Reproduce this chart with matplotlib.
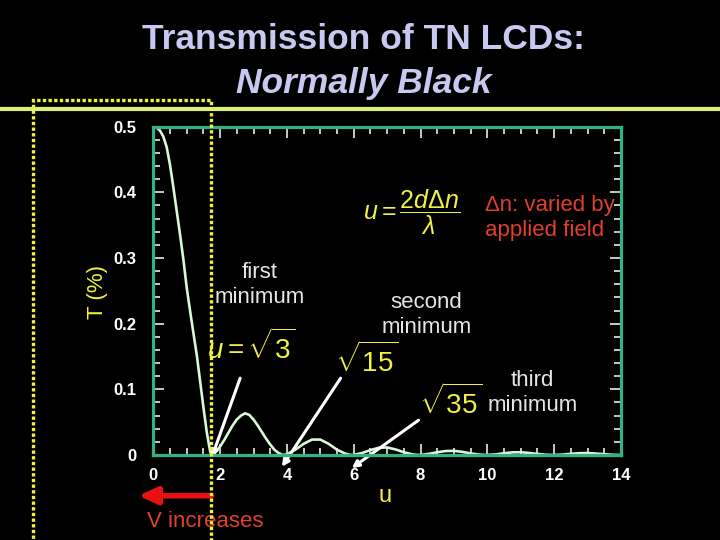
import matplotlib
matplotlib.use("Agg")
import matplotlib.pyplot as plt
from matplotlib.ticker import MultipleLocator, FixedLocator
from matplotlib.patches import Rectangle
from matplotlib.lines import Line2D

plt.rcParams['font.family'] = ['Liberation Sans', 'DejaVu Sans']
plt.rcParams['mathtext.fontset'] = 'custom'
plt.rcParams['mathtext.rm'] = 'Liberation Sans'
plt.rcParams['mathtext.it'] = 'Liberation Sans:italic'

# ---- data ----
u_vals = [0.0, 0.1, 0.2, 0.3, 0.4, 0.5, 0.6, 0.7, 0.8, 0.9, 1.0, 1.1, 1.2, 1.3,
          1.4, 1.5, 1.6, 1.7, 1.732,
          1.8, 1.9, 2.0, 2.125, 2.25, 2.375, 2.5, 2.625, 2.75, 2.875, 3.0, 3.125,
          3.25, 3.375, 3.5, 3.625, 3.75, 3.873,
          4.0, 4.25, 4.5, 4.75, 5.0, 5.25, 5.5, 5.75, 5.916,
          6.0, 6.25, 6.5, 6.75, 7.0, 7.25, 7.5, 7.75, 7.937,
          8.0, 8.25, 8.5, 8.75, 9.0, 9.25, 9.5, 9.75, 9.95,
          10.25, 10.5, 10.75, 11.0, 11.25, 11.5, 11.75, 11.958,
          12.25, 12.5, 12.75, 13.0, 13.25, 13.5, 13.75, 13.964, 14.0]
T_vals = [0.5, 0.499, 0.494, 0.485, 0.469, 0.442, 0.408, 0.372, 0.336, 0.298,
          0.255, 0.220, 0.186, 0.153, 0.113, 0.073, 0.035, 0.006, 0.0,
          0.002, 0.007, 0.013, 0.023, 0.034, 0.045, 0.054, 0.060, 0.0635, 0.061,
          0.054, 0.045, 0.035, 0.025, 0.016, 0.008, 0.003, 0.0,
          0.001, 0.008, 0.017, 0.0235, 0.0235, 0.017, 0.008, 0.002, 0.0,
          0.0003, 0.003, 0.0075, 0.011, 0.0115, 0.0085, 0.0042, 0.001, 0.0,
          0.0001, 0.0017, 0.0042, 0.006, 0.0063, 0.0048, 0.0024, 0.0006, 0.0,
          0.0009, 0.0027, 0.004, 0.0042, 0.0031, 0.0016, 0.0004, 0.0,
          0.0006, 0.0018, 0.0027, 0.003, 0.0022, 0.0012, 0.0003, 0.0, 0.00002]
x_ticks = [0, 2, 4, 6, 8, 10, 12, 14]
y_ticks = [0, 0.1, 0.2, 0.3, 0.4, 0.5]
y_tick_labels = ['0', '0.1', '0.2', '0.3', '0.4', '0.5']

title_line1 = "Transmission of TN LCDs:"
title_line2 = "Normally Black"

# ---- colours ----
bg = 'black'
frame_c = '#2fb383'
curve_c = '#d8f8d6'
title_c = '#c8c8f0'
yellow = '#f2f040'
red_txt = '#e0402a'
white_txt = '#e6e6e6'

fig = plt.figure(figsize=(7.2, 5.4), dpi=100, facecolor=bg)
ax = fig.add_axes([0.2129, 0.1574, 0.6496, 0.608])
ax.set_facecolor(bg)

ax.plot(u_vals, T_vals, color=curve_c, lw=1.9, solid_capstyle='round', zorder=3)

ax.set_xlim(0, 14)
ax.set_ylim(0, 0.5)
for s in ax.spines.values():
    s.set_color(frame_c)
    s.set_linewidth(2.3)
    s.set_zorder(4)

ax.xaxis.set_major_locator(FixedLocator(x_ticks))
ax.xaxis.set_minor_locator(MultipleLocator(0.5))
ax.yaxis.set_major_locator(FixedLocator(y_ticks))
ax.yaxis.set_minor_locator(MultipleLocator(0.02))
ax.set_yticklabels(y_tick_labels)
ax.tick_params(which='both', direction='in', colors='white', top=True, right=True)
ax.tick_params(which='major', length=8, width=1.1)
ax.tick_params(which='minor', length=5, width=1.1)
ax.tick_params(axis='x', which='major', pad=9, labelsize=12, labelcolor='white')
ax.tick_params(axis='y', which='major', pad=12, labelsize=12, labelcolor='white')
for lab in ax.get_xticklabels() + ax.get_yticklabels():
    lab.set_fontweight('bold')

# ---- title ----
fig.text(0.505, 0.926, title_line1, ha='center', va='center', fontsize=25.5,
         fontweight='bold', color=title_c)
fig.text(0.505, 0.846, title_line2, ha='center', va='center', fontsize=25.5,
         fontweight='bold', fontstyle='italic', color=title_c)

# horizontal light-green rule
fig.add_artist(Line2D([0, 1], [0.799, 0.799], transform=fig.transFigure,
                      color='#d8f080', lw=3.0))
# yellow dotted box
fig.add_artist(Rectangle((0.0465, -0.02), 0.2465, 0.8348, transform=fig.transFigure,
                         fill=False, edgecolor=yellow, lw=2.4,
                         linestyle=(0, (1, 0.7)), zorder=10))

# ---- labels ----
ax.text(-1.675, 0.248, 'T (%)', rotation=90, ha='center', va='center',
        fontsize=16, color=yellow)
ax.text(6.93, -0.062, 'u', ha='center', va='center', fontsize=17, color=yellow)

# annotations
ax.text(3.18, 0.259, 'first\nminimum', ha='center', va='center', fontsize=16,
        color=white_txt, linespacing=1.25)
ax.text(8.18, 0.213, 'second\nminimum', ha='center', va='center', fontsize=16,
        color=white_txt, linespacing=1.25)
ax.text(11.36, 0.094, 'third\nminimum', ha='center', va='center', fontsize=16,
        color=white_txt, linespacing=1.25)
ax.text(2.94, 0.164, r'$u = \sqrt{3}$', ha='center', va='center', fontsize=20,
        color=yellow)
ax.text(6.39, 0.145, r'$\sqrt{15}$', ha='center', va='center', fontsize=20,
        color=yellow)
ax.text(8.89, 0.081, r'$\sqrt{35}$', ha='center', va='center', fontsize=20,
        color=yellow)
ax.text(7.72, 0.370, r'$u = \dfrac{2d\Delta n}{\lambda}$', ha='center', va='center',
        fontsize=18, color=yellow)
ax.text(9.93, 0.361, '\u0394n: varied by\napplied field', ha='left', va='center',
        fontsize=16, color=red_txt, linespacing=1.2)

arrow_kw = dict(arrowstyle='-|>,head_length=0.4,head_width=0.2', color='white',
                lw=2.2, shrinkA=0, shrinkB=0)
ax.annotate('', xy=(1.747, -0.004), xytext=(2.60, 0.117), arrowprops=arrow_kw,
            annotation_clip=False)
ax.annotate('', xy=(3.85, -0.018), xytext=(5.607, 0.117), arrowprops=arrow_kw,
            annotation_clip=False)
ax.annotate('', xy=(5.94, -0.020), xytext=(7.94, 0.053), arrowprops=arrow_kw,
            annotation_clip=False)

# red arrow "V increases"
ax.annotate('', xy=(-0.45, -0.062), xytext=(1.74, -0.062),
            arrowprops=dict(arrowstyle='-|>,head_length=1.1,head_width=0.5',
                            color='#e81010', lw=4, shrinkA=0, shrinkB=0),
            annotation_clip=False)
ax.text(1.57, -0.102, 'V increases', ha='center', va='center', fontsize=16,
        color=red_txt)

fig.savefig('out.png', dpi=100, facecolor=bg)
